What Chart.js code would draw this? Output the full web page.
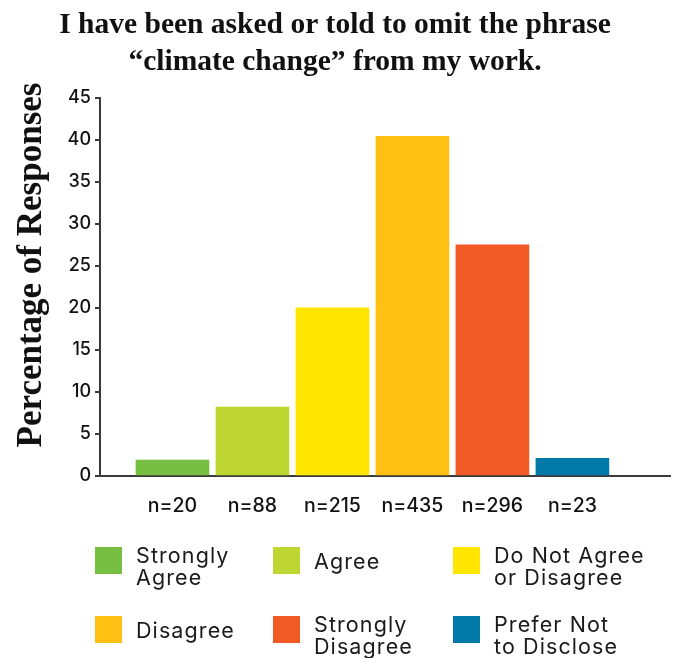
<!DOCTYPE html>
<html>
<head>
<meta charset="utf-8">
<script src="https://cdn.jsdelivr.net/npm/chart.js@4.4.1/dist/chart.umd.min.js"></script>
<style>
  html, body { margin: 0; padding: 0; background: #ffffff; }
  #wrap { position: relative; width: 678px; height: 658px; }
  #chart { position: absolute; left: 0; top: 0; }
  #ytitle {
    position: absolute; left: 30px; top: 265px; width: 420px; text-align: center;
    transform: translate(-50%, -50%) rotate(-90deg);
    font-family: "Liberation Serif", "DejaVu Serif", serif; font-weight: bold; font-size: 35px;
    line-height: 40px; color: #111111; white-space: nowrap;
  }
  #legend {
    position: absolute; left: 95px; top: 547px;
    display: grid; grid-template-columns: 178px 180px 180px; grid-auto-rows: 69px;
    font-family: Inter, "Open Sans", sans-serif; font-size: 21.5px; letter-spacing: 1.1px; color: #1a1a1a;
  }
  .item { display: flex; align-items: flex-start; }
  .swatch { width: 27px; height: 27px; flex: none; margin-right: 14px; }
  .label { line-height: 22px; white-space: pre; }
  .label.one { margin-top: 3px; }
  .label.two { margin-top: -3px; }
</style>
</head>
<body>
<div id="wrap">
  <canvas id="chart" width="678" height="658"></canvas>
  <div id="ytitle">Percentage of Responses</div>
  <div id="legend"></div>
</div>
<script>
// Survey responses: share of respondents per answer
const categories = ["Strongly\nAgree", "Agree", "Do Not Agree\nor Disagree", "Disagree", "Strongly\nDisagree", "Prefer Not\nto Disclose"];
const counts = [20, 88, 215, 435, 296, 23];
const percentages = [1.9, 8.2, 20.0, 40.4, 27.5, 2.1];
const countLabels = counts.map(n => "n=" + n);
const colors = ["#76bf43", "#bdd632", "#ffe500", "#ffc014", "#f15a24", "#0079a8"];
const yTicks = [0, 5, 10, 15, 20, 25, 30, 35, 40, 45];

const sans = "Inter, 'Open Sans', sans-serif";
const serif = "'Liberation Serif', 'DejaVu Serif', serif";
const axisColor = "#3a3a3a";

new Chart(document.getElementById("chart"), {
  type: "bar",
  data: {
    datasets: [{
      data: percentages.map((v, i) => ({ x: i, y: v })),
      backgroundColor: colors,
      borderWidth: 0,
      barThickness: 73
    }]
  },
  options: {
    responsive: false,
    animation: false,
    layout: { padding: { top: 0, left: 0, right: 8, bottom: 137 } },
    plugins: {
      legend: { display: false },
      tooltip: { enabled: false },
      title: {
        display: true,
        text: ["I have been asked or told to omit the phrase", "\u201cclimate change\u201d from my work."],
        color: "#111111",
        font: { family: serif, size: 29.5, weight: "bold", lineHeight: 1.28 },
        padding: { top: 6, bottom: 16 }
      }
    },
    scales: {
      x: {
        type: "linear",
        offset: false,
        min: -0.906,
        max: 6.22,
        grid: { display: false },
        border: { display: true, color: axisColor, width: 2 },
        afterBuildTicks: s => { s.ticks = counts.map((_, i) => ({ value: i })); },
        afterFit: s => { s.height = 45; },
        ticks: {
          autoSkip: false,
          maxRotation: 0,
          padding: 10,
          color: "#111111",
          font: { family: sans, size: 19.5, weight: "500" },
          callback: v => countLabels[v]
        }
      },
      y: {
        min: 0,
        max: 45,
        grid: { drawOnChartArea: false, drawTicks: true, tickLength: 5, color: axisColor, lineWidth: 2 },
        border: { display: true, color: axisColor, width: 2 },
        afterBuildTicks: s => { s.ticks = yTicks.map(v => ({ value: v })); },
        afterFit: s => { s.width = 100; },
        ticks: {
          padding: 4,
          color: "#111111",
          font: { family: sans, size: 18, weight: "500" }
        }
      }
    }
  }
});

// Legend in three columns, built from the same categories and colours
const legend = document.getElementById("legend");
categories.forEach((name, i) => {
  const item = document.createElement("div");
  item.className = "item";
  const sw = document.createElement("div");
  sw.className = "swatch";
  sw.style.background = colors[i];
  const lab = document.createElement("div");
  lab.className = "label " + (name.includes("\n") ? "two" : "one");
  lab.textContent = name;
  item.appendChild(sw);
  item.appendChild(lab);
  legend.appendChild(item);
});
</script>
</body>
</html>
